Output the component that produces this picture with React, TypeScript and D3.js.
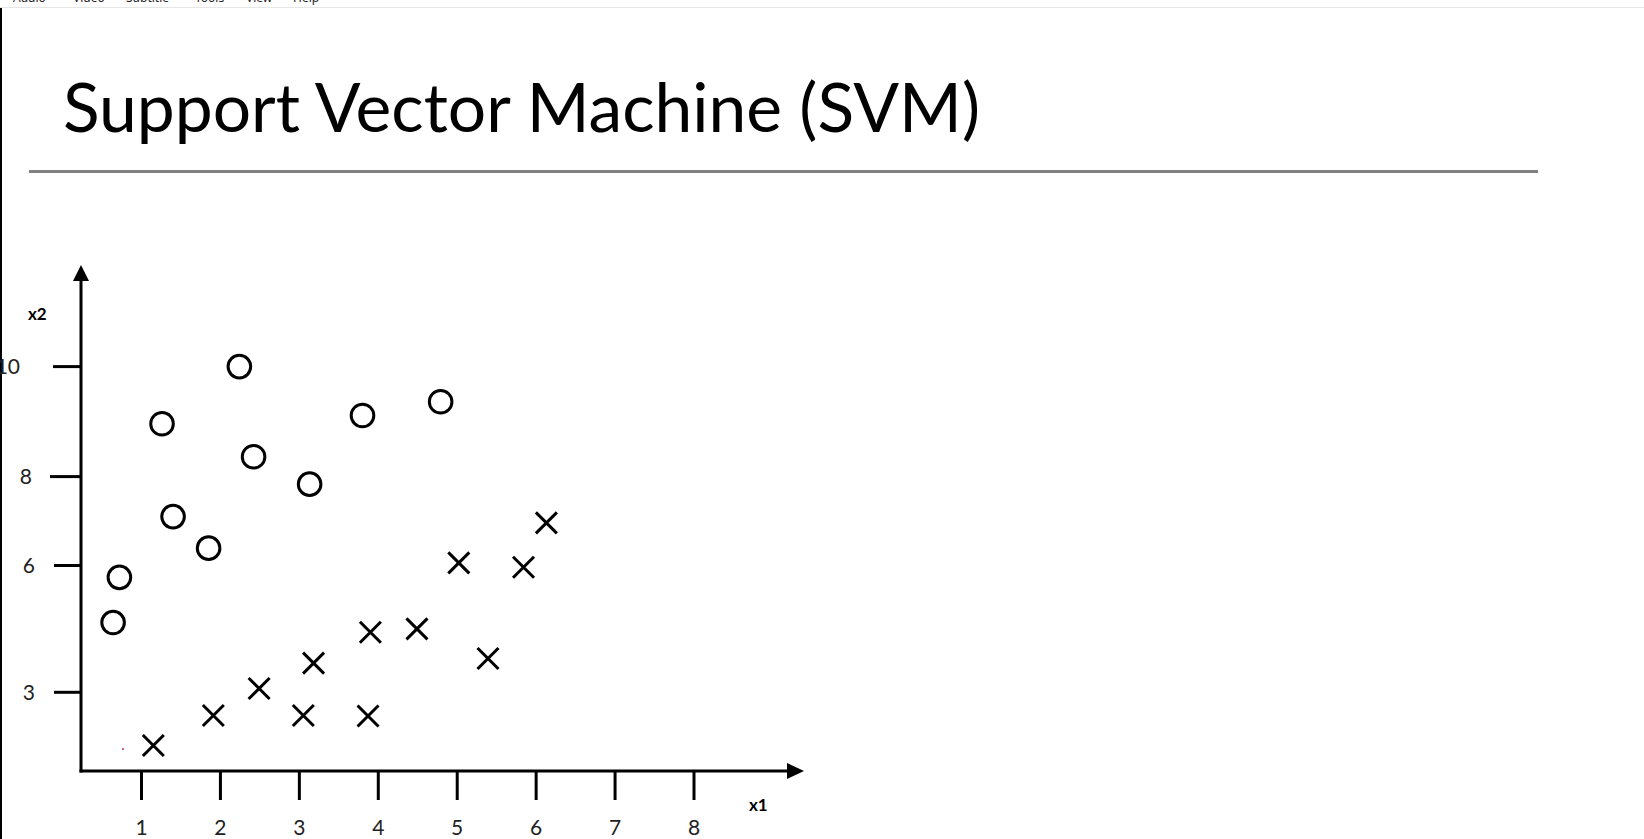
import React, { useEffect, useRef } from "react";
import * as d3 from "d3";

// points (x1, x2)
const circleX1 = [0.64, 0.72, 1.4, 1.85, 1.26, 2.24, 2.42, 3.13, 3.8, 4.79];
const circleX2 = [4.65, 5.72, 7.1, 6.39, 8.96, 10.0, 8.36, 7.83, 9.11, 9.36];
const crossX1 = [1.15, 1.91, 2.49, 3.05, 3.18, 3.87, 3.9, 4.49, 5.02, 5.39, 5.84, 6.13];
const crossX2 = [1.74, 2.45, 3.09, 2.45, 3.69, 2.44, 4.42, 4.5, 6.06, 3.8, 5.96, 6.96];
const xTicks = [1, 2, 3, 4, 5, 6, 7, 8];
const yTicks = [10, 8, 6, 3];
const menuItems = ["Audio", "Video", "Subtitle", "Tools", "View", "Help"];

const W = 1644;
const H = 839;

export default function App() {
  const ref = useRef<SVGSVGElement | null>(null);

  useEffect(() => {
    const svg = d3.select(ref.current);
    svg.selectAll("*").remove();

    // the slide's axis is hand drawn, so the y ticks are not evenly spaced
    const x = d3.scaleLinear().domain([1, 8]).range([141.5, 694]);
    const y = d3.scaleLinear().domain([3, 6, 8, 10]).range([692.3, 565.5, 476.6, 366.6]);

    const ox = 81;
    const oy = 771;

    // window chrome: menu strip (scrolled mostly off the top) and left border
    const menuX = [13, 73, 126, 195, 246, 293];
    svg
      .selectAll(".menu")
      .data(menuItems)
      .enter()
      .append("text")
      .attr("x", (d, i) => menuX[i])
      .attr("y", 2)
      .attr("font-family", "Noto Sans")
      .attr("font-size", 12)
      .attr("fill", "#222")
      .text(d => d);
    svg
      .append("line")
      .attr("x1", 0)
      .attr("x2", W)
      .attr("y1", 7.5)
      .attr("y2", 7.5)
      .attr("stroke", "#e6e6e6")
      .attr("stroke-width", 1);
    svg
      .append("line")
      .attr("x1", 1)
      .attr("x2", 1)
      .attr("y1", 8)
      .attr("y2", H)
      .attr("stroke", "#000")
      .attr("stroke-width", 2);

    // title + rule
    svg
      .append("text")
      .attr("x", 63)
      .attr("y", 131.5)
      .attr("font-family", "Lato")
      .attr("font-size", 67)
      .attr("textLength", 917)
      .attr("lengthAdjust", "spacingAndGlyphs")
      .attr("fill", "#000")
      .text("Support Vector Machine (SVM)");
    svg
      .append("line")
      .attr("x1", 29)
      .attr("x2", 1538)
      .attr("y1", 171.5)
      .attr("y2", 171.5)
      .attr("stroke", "#808080")
      .attr("stroke-width", 3);

    const g = svg.append("g");

    // axes
    g.append("line")
      .attr("x1", ox)
      .attr("x2", ox)
      .attr("y1", 279)
      .attr("y2", oy + 1.5)
      .attr("stroke", "#000")
      .attr("stroke-width", 3);
    g.append("line")
      .attr("x1", ox - 1.5)
      .attr("x2", 789)
      .attr("y1", oy)
      .attr("y2", oy)
      .attr("stroke", "#000")
      .attr("stroke-width", 3);
    g.append("path")
      .attr("d", `M${ox},265 L${ox - 8},281 L${ox + 8},281 Z`)
      .attr("fill", "#000");
    g.append("path")
      .attr("d", `M804,${oy} L787,${oy - 8} L787,${oy + 8} Z`)
      .attr("fill", "#000");

    g.selectAll(".xtick")
      .data(xTicks)
      .enter()
      .append("line")
      .attr("x1", d => x(d))
      .attr("x2", d => x(d))
      .attr("y1", oy)
      .attr("y2", 800)
      .attr("stroke", "#000")
      .attr("stroke-width", 3);
    g.selectAll(".xlab")
      .data(xTicks)
      .enter()
      .append("text")
      .attr("x", d => x(d))
      .attr("y", 835)
      .attr("text-anchor", "middle")
      .attr("font-family", "Lato")
      .attr("font-size", 21)
      .attr("fill", "#222")
      .text(d => d);

    const yTickStart: Record<number, number> = { 10: 53, 8: 50, 6: 54, 3: 54 };
    const yLabelEnd: Record<number, number> = { 10: 20, 8: 32, 6: 35, 3: 35 };
    g.selectAll(".ytick")
      .data(yTicks)
      .enter()
      .append("line")
      .attr("x1", d => yTickStart[d])
      .attr("x2", ox)
      .attr("y1", d => y(d))
      .attr("y2", d => y(d))
      .attr("stroke", "#000")
      .attr("stroke-width", 3);
    g.selectAll(".ylab")
      .data(yTicks)
      .enter()
      .append("text")
      .attr("x", d => yLabelEnd[d])
      .attr("y", d => y(d) + 7.5)
      .attr("text-anchor", "end")
      .attr("font-family", "Lato")
      .attr("font-size", 21)
      .attr("fill", "#222")
      .text(d => d);

    g.append("text")
      .attr("x", 28)
      .attr("y", 320)
      .attr("font-family", "Lato")
      .attr("font-weight", "bold")
      .attr("font-size", 17)
      .text("x2");
    g.append("text")
      .attr("x", 749)
      .attr("y", 811)
      .attr("font-family", "Lato")
      .attr("font-weight", "bold")
      .attr("font-size", 17)
      .text("x1");

    // class O
    g.selectAll(".circ")
      .data(circleX1.map((v, i) => [v, circleX2[i]]))
      .enter()
      .append("circle")
      .attr("cx", d => x(d[0]))
      .attr("cy", d => y(d[1]))
      .attr("r", 11.3)
      .attr("fill", "none")
      .attr("stroke", "#000")
      .attr("stroke-width", 3);

    // class X
    const s = 10.5;
    g.selectAll(".cross")
      .data(crossX1.map((v, i) => [v, crossX2[i]]))
      .enter()
      .append("path")
      .attr("d", d => {
        const cx = x(d[0]);
        const cy = y(d[1]);
        return `M${cx - s},${cy - s}L${cx + s},${cy + s}M${cx - s},${cy + s}L${cx + s},${cy - s}`;
      })
      .attr("fill", "none")
      .attr("stroke", "#000")
      .attr("stroke-width", 3);

    // stray red pixel on the slide
    g.append("circle")
      .attr("cx", 123)
      .attr("cy", 749)
      .attr("r", 1)
      .attr("fill", "#c0304a");
  }, []);

  return (
    <svg
      ref={ref}
      width={W}
      height={H}
      style={{ position: "absolute", left: 0, top: 0, background: "#fff" }}
    />
  );
}
